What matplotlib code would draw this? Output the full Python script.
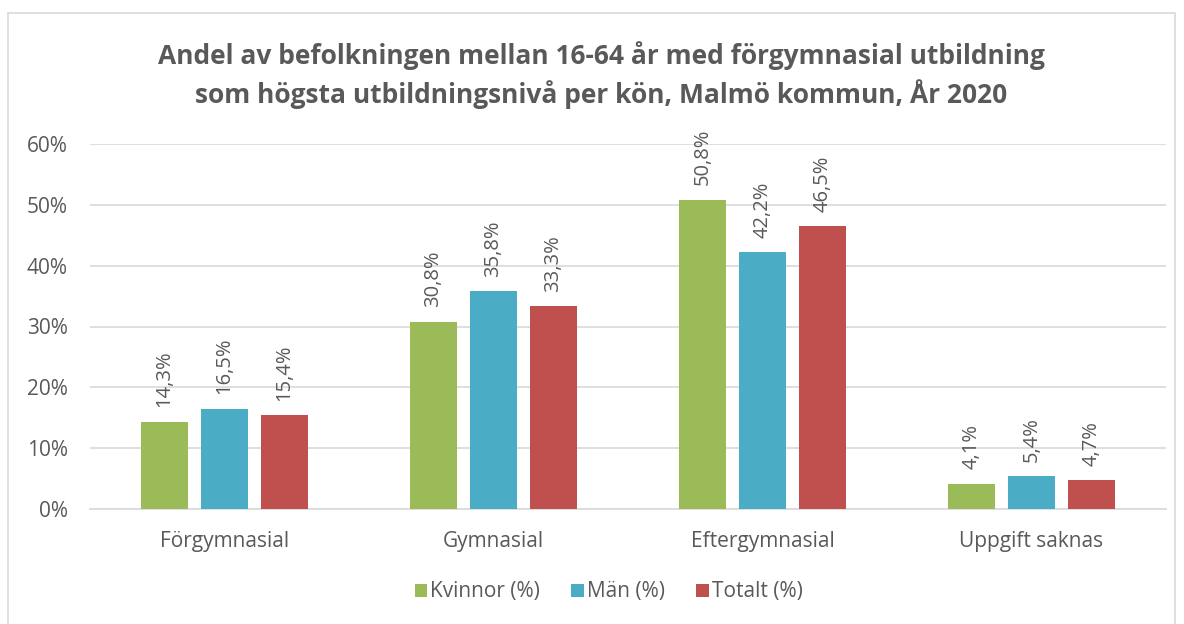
import numpy as np
import matplotlib.pyplot as plt
from matplotlib.patches import Rectangle

categories = ["Förgymnasial", "Gymnasial", "Eftergymnasial", "Uppgift saknas"]
series_names = ["Kvinnor (%)", "Män (%)", "Totalt (%)"]
kvinnor = [14.3, 30.8, 50.8, 4.1]
man = [16.5, 35.8, 42.2, 5.4]
totalt = [15.4, 33.3, 46.5, 4.7]
colors = ["#9BBB59", "#4BACC6", "#C0504D"]

plt.rcParams["font.family"] = ["Open Sans", "DejaVu Sans"]
text_col = "#595959"

fig = plt.figure(figsize=(11.84, 6.24), dpi=100)
ax = fig.add_axes([90 / 1184, 1 - 509 / 624, 1076 / 1184, 365 / 624])

# chart border
fig.patches.append(Rectangle((8 / 1184, -0.01), 1167 / 1184, 1 - 13 / 624 + 0.01,
                             transform=fig.transFigure, fill=False,
                             edgecolor="#D9D9D9", linewidth=1.2))

x = np.arange(len(categories))
step = 0.223
width = 0.175
for i, (vals, name) in enumerate(zip([kvinnor, man, totalt], series_names)):
    pos = x + (i - 1) * step
    ax.bar(pos, vals, width=width, color=colors[i], label=name, zorder=3)
    for p, v in zip(pos, vals):
        ax.text(p, v + 2.4, f"{v:.1f}%".replace(".", ","), rotation=90,
                ha="center", va="bottom", fontsize=14.5, color=text_col)

ax.set_xlim(-0.5, 3.5)
ax.set_ylim(0, 60)
ax.set_yticks(range(0, 61, 10))
ax.set_yticklabels([f"{t}%" for t in range(0, 61, 10)])
ax.set_xticks(x)
ax.set_xticklabels(categories)
ax.yaxis.grid(True, color="#D9D9D9", linewidth=1.2, zorder=0)
ax.tick_params(axis="both", length=0, labelsize=15, colors=text_col)
ax.tick_params(axis="x", pad=16)
ax.tick_params(axis="y", pad=16)
for s in ["top", "right", "left"]:
    ax.spines[s].set_visible(False)
ax.spines["bottom"].set_color("#D9D9D9")
ax.spines["bottom"].set_linewidth(1.2)

fig.text(0.508, 1 - 75 / 624, "Andel av befolkningen mellan 16-64 år med förgymnasial utbildning\n"
         "som högsta utbildningsnivå per kön, Malmö kommun, År 2020",
         ha="center", va="center", fontsize=19, fontweight="bold", color=text_col,
         linespacing=1.35)

fig.legend(loc="center", bbox_to_anchor=(0.514, 1 - 592 / 624), ncol=3, frameon=False,
           fontsize=15, labelcolor=text_col, handlelength=0.6, handleheight=0.6,
           handletextpad=0.15, columnspacing=1.5)

fig.savefig("out.png", dpi=100)
